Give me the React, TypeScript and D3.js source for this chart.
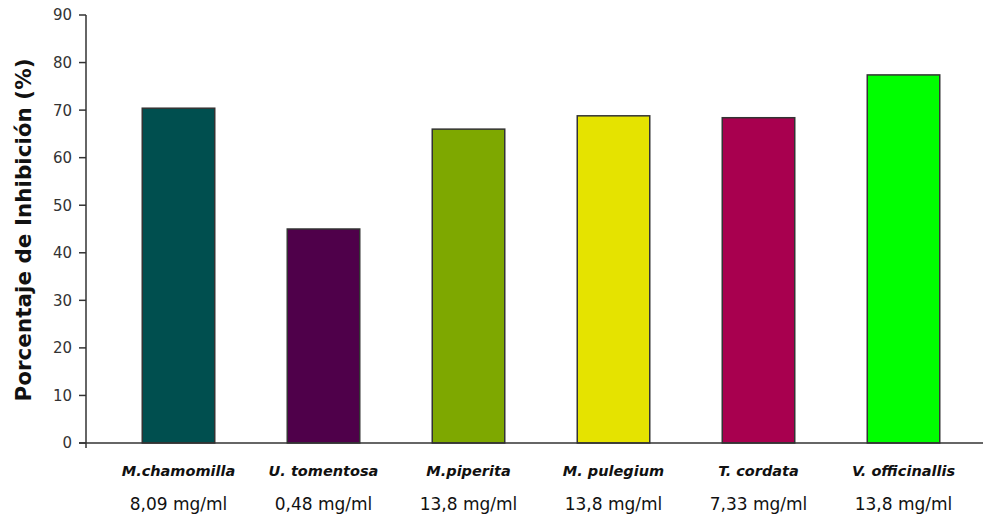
import React from "react";
import * as d3 from "d3";

const categories = ["M.chamomilla", "U. tomentosa", "M.piperita", "M. pulegium", "T. cordata", "V. officinallis"];
const doses = ["8,09 mg/ml", "0,48 mg/ml", "13,8 mg/ml", "13,8 mg/ml", "7,33 mg/ml", "13,8 mg/ml"];
const values = [70.4, 45.0, 66.0, 68.8, 68.4, 77.4];
const colors = ["#004f4f", "#4f004a", "#7ea800", "#e5e300", "#a8004f", "#00ff00"];
const yTicks = [0, 10, 20, 30, 40, 50, 60, 70, 80, 90];

const W = 983;
const H = 517;
const axisX = 86;
const top = 15;
const bottom = 443;

export default function App() {
  const x = d3.scaleBand<string>().domain(categories).range([106, 976]).paddingInner(0.5).paddingOuter(0.25);
  const y = d3.scaleLinear().domain([0, 90]).range([bottom, top]);
  const font = "'DejaVu Sans', Verdana, sans-serif";
  return (
    <svg width={W} height={H} style={{ position: "absolute", left: 0, top: 0, background: "#fff" }}>
      <rect x={0} y={0} width={W} height={H} fill="#fff" />
      {categories.map((c, i) => (
        <rect
          key={c}
          x={x(c)}
          y={y(values[i])}
          width={x.bandwidth()}
          height={y(0) - y(values[i])}
          fill={colors[i]}
          stroke="#333"
          strokeWidth={1.5}
        />
      ))}
      <line x1={axisX} x2={axisX} y1={top} y2={bottom + 5} stroke="#333" strokeWidth={1.5} />
      <line x1={axisX - 7} x2={W} y1={bottom} y2={bottom} stroke="#333" strokeWidth={1.5} />
      {yTicks.map((t) => (
        <g key={t}>
          <line x1={axisX - 7} x2={axisX} y1={y(t)} y2={y(t)} stroke="#333" strokeWidth={1.5} />
          <text x={72} y={y(t)} dy="0.36em" textAnchor="end" fontFamily={font} fontSize={15} fill="#333">
            {t}
          </text>
        </g>
      ))}
      <text
        transform={`translate(31,${(60 + 400) / 2}) rotate(-90)`}
        textAnchor="middle"
        fontFamily={font}
        fontWeight="bold"
        fontSize={21.5}
        fill="#111"
      >
        Porcentaje de Inhibición (%)
      </text>
      {categories.map((c, i) => (
        <g key={c + "l"}>
          <text
            x={(x(c) as number) + x.bandwidth() / 2}
            y={476}
            textAnchor="middle"
            fontFamily={font}
            fontWeight="bold"
            fontStyle="italic"
            fontSize={14.5}
            fill="#111"
          >
            {c}
          </text>
          <text
            x={(x(c) as number) + x.bandwidth() / 2}
            y={510}
            textAnchor="middle"
            fontFamily={font}
            fontSize={17}
            fill="#111"
          >
            {doses[i]}
          </text>
        </g>
      ))}
    </svg>
  );
}
